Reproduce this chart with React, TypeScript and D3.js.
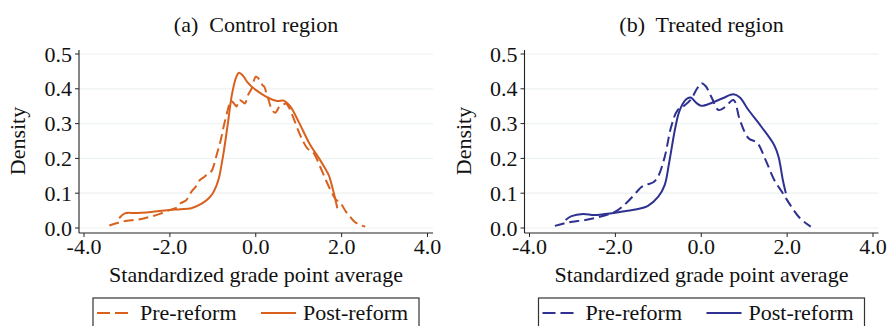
import React from "react";
import * as d3 from "d3";

// Kernel density estimates of standardized GPA, [gpa, density]
const controlPre: [number, number][] = [
  [-3.41, 0.007], [-3.2, 0.015], [-3.0, 0.021], [-2.75, 0.024], [-2.5, 0.031], [-2.25, 0.04],
  [-2.0, 0.052], [-1.85, 0.058], [-1.75, 0.071], [-1.62, 0.08], [-1.5, 0.104], [-1.4, 0.118],
  [-1.3, 0.138], [-1.22, 0.145], [-1.15, 0.152], [-1.05, 0.16], [-1.0, 0.171], [-0.9, 0.215],
  [-0.82, 0.25], [-0.75, 0.29], [-0.65, 0.34], [-0.58, 0.365], [-0.52, 0.36], [-0.45, 0.349],
  [-0.38, 0.368], [-0.3, 0.362], [-0.25, 0.358], [-0.18, 0.382], [-0.1, 0.4], [-0.04, 0.425],
  [0.0, 0.435], [0.06, 0.43], [0.1, 0.425], [0.16, 0.41], [0.2, 0.406], [0.25, 0.387],
  [0.3, 0.368], [0.35, 0.348], [0.45, 0.331], [0.55, 0.348], [0.62, 0.352], [0.7, 0.358],
  [0.78, 0.345], [0.85, 0.325], [1.0, 0.277], [1.1, 0.25], [1.2, 0.229], [1.28, 0.222],
  [1.35, 0.215], [1.5, 0.176], [1.65, 0.133], [1.8, 0.095], [1.88, 0.08], [1.95, 0.076],
  [2.1, 0.047], [2.2, 0.032], [2.3, 0.018], [2.42, 0.009], [2.55, 0.004],
];
const controlPost: [number, number][] = [
  [-3.18, 0.028], [-3.05, 0.042], [-2.8, 0.043], [-2.5, 0.045], [-2.25, 0.049], [-2.0, 0.052],
  [-1.75, 0.054], [-1.5, 0.057], [-1.25, 0.071], [-1.1, 0.085], [-1.0, 0.1], [-0.92, 0.12],
  [-0.85, 0.147], [-0.8, 0.18], [-0.75, 0.215], [-0.65, 0.3], [-0.55, 0.387], [-0.45, 0.435],
  [-0.39, 0.446], [-0.3, 0.438], [-0.2, 0.42], [-0.1, 0.407], [0.0, 0.397], [0.25, 0.377],
  [0.5, 0.365], [0.65, 0.366], [0.8, 0.35], [1.0, 0.305], [1.25, 0.243], [1.5, 0.195],
  [1.62, 0.17], [1.7, 0.152], [1.8, 0.109], [1.9, 0.057],
];
const treatedPre: [number, number][] = [
  [-3.41, 0.006], [-3.2, 0.013], [-3.0, 0.018], [-2.75, 0.022], [-2.5, 0.028], [-2.25, 0.036],
  [-2.0, 0.047], [-1.75, 0.071], [-1.5, 0.104], [-1.4, 0.117], [-1.3, 0.124], [-1.2, 0.127],
  [-1.1, 0.133], [-1.0, 0.149], [-0.85, 0.205], [-0.7, 0.291], [-0.55, 0.339], [-0.4, 0.351],
  [-0.25, 0.368], [-0.1, 0.4], [0.0, 0.416], [0.1, 0.408], [0.25, 0.373], [0.4, 0.339],
  [0.55, 0.347], [0.75, 0.368], [0.9, 0.31], [1.1, 0.258], [1.3, 0.245], [1.5, 0.195],
  [1.7, 0.138], [1.9, 0.1], [2.1, 0.061], [2.3, 0.028], [2.55, 0.004],
];
const treatedPost: [number, number][] = [
  [-3.16, 0.023], [-3.02, 0.034], [-2.75, 0.04], [-2.5, 0.037], [-2.25, 0.04], [-2.0, 0.044],
  [-1.75, 0.049], [-1.5, 0.054], [-1.25, 0.063], [-1.0, 0.09], [-0.85, 0.124], [-0.75, 0.186],
  [-0.6, 0.291], [-0.5, 0.339], [-0.35, 0.37], [-0.25, 0.375], [-0.1, 0.358], [0.0, 0.351],
  [0.25, 0.36], [0.5, 0.373], [0.75, 0.384], [0.9, 0.375], [1.1, 0.339], [1.4, 0.291],
  [1.7, 0.238], [1.8, 0.205], [1.9, 0.138], [1.97, 0.1],
];

const xTicks = [-4, -2, 0, 2, 4];
const yTicks = [0, 0.1, 0.2, 0.3, 0.4, 0.5];
const panelTitles = ["(a)  Control region", "(b)  Treated region"];
const legendLabels = ["Pre-reform", "Post-reform"];
const xAxisTitle = "Standardized grade point average";
const yAxisTitle = "Density";

const FONT = "'Liberation Serif', 'Times New Roman', serif";
const ORANGE = "#d9601d";
const NAVY = "#2e3190";

type PanelProps = {
  offsetX: number;
  title: string;
  color: string;
  pre: [number, number][];
  post: [number, number][];
};

function Panel({ offsetX, title, color, pre, post }: PanelProps) {
  const axisX = 79;
  const x = d3.scaleLinear().domain([-4, 4]).range([84, 427.5]);
  const y = d3.scaleLinear().domain([0, 0.5]).range([228, 54]);
  const line = d3
    .line<[number, number]>()
    .x((d) => x(d[0]))
    .y((d) => y(d[1]))
    .curve(d3.curveCatmullRom.alpha(0.5));
  const rightEdge = 433;
  const baseY = 233;

  return (
    <g transform={`translate(${offsetX},0)`} fontFamily={FONT} fill="#111">
      <text x={256} y={32} fontSize={22} textAnchor="middle" style={{ whiteSpace: "pre" }}>
        {title}
      </text>
      {yTicks.map((t) => (
        <line key={"g" + t} x1={axisX} x2={rightEdge} y1={y(t)} y2={y(t)} stroke="#edf2f2" strokeWidth={1.2} />
      ))}
      <line x1={axisX} x2={axisX} y1={50} y2={baseY} stroke="#222" strokeWidth={1.1} />
      <line x1={axisX} x2={rightEdge} y1={baseY} y2={baseY} stroke="#222" strokeWidth={1.1} />
      {yTicks.map((t) => (
        <g key={"y" + t}>
          <line x1={axisX - 4} x2={axisX} y1={y(t)} y2={y(t)} stroke="#222" strokeWidth={1} />
          <text x={72} y={y(t) + 7.5} fontSize={22} textAnchor="end">
            {t.toFixed(1)}
          </text>
        </g>
      ))}
      {xTicks.map((t) => (
        <g key={"x" + t}>
          <line x1={x(t)} x2={x(t)} y1={baseY} y2={baseY + 4} stroke="#222" strokeWidth={1} />
          <text x={x(t)} y={254} fontSize={22} textAnchor="middle">
            {t.toFixed(1)}
          </text>
        </g>
      ))}
      <text x={256} y={282} fontSize={22} textAnchor="middle">
        {xAxisTitle}
      </text>
      <text transform="translate(25,141) rotate(-90)" fontSize={22} textAnchor="middle">
        {yAxisTitle}
      </text>
      <path d={line(pre) ?? ""} fill="none" stroke={color} strokeWidth={2} strokeDasharray="10,5" />
      <path d={line(post) ?? ""} fill="none" stroke={color} strokeWidth={2} />
      <rect x={93} y={298} width={326} height={40} fill="#fff" stroke="#333" strokeWidth={1.2} />
      <line x1={97} x2={130} y1={313} y2={313} stroke={color} strokeWidth={2} strokeDasharray="13,5" />
      <text x={140} y={320} fontSize={22}>
        {legendLabels[0]}
      </text>
      <line x1={261} x2={296} y1={313} y2={313} stroke={color} strokeWidth={2} />
      <text x={303} y={320} fontSize={22}>
        {legendLabels[1]}
      </text>
    </g>
  );
}

export default function App() {
  return (
    <svg
      width={890}
      height={326}
      style={{ position: "absolute", left: 0, top: 0, background: "#fff" }}
    >
      <rect width={890} height={326} fill="#fff" />
      <Panel offsetX={0} title={panelTitles[0]} color={ORANGE} pre={controlPre} post={controlPost} />
      <Panel offsetX={445.5} title={panelTitles[1]} color={NAVY} pre={treatedPre} post={treatedPost} />
    </svg>
  );
}
